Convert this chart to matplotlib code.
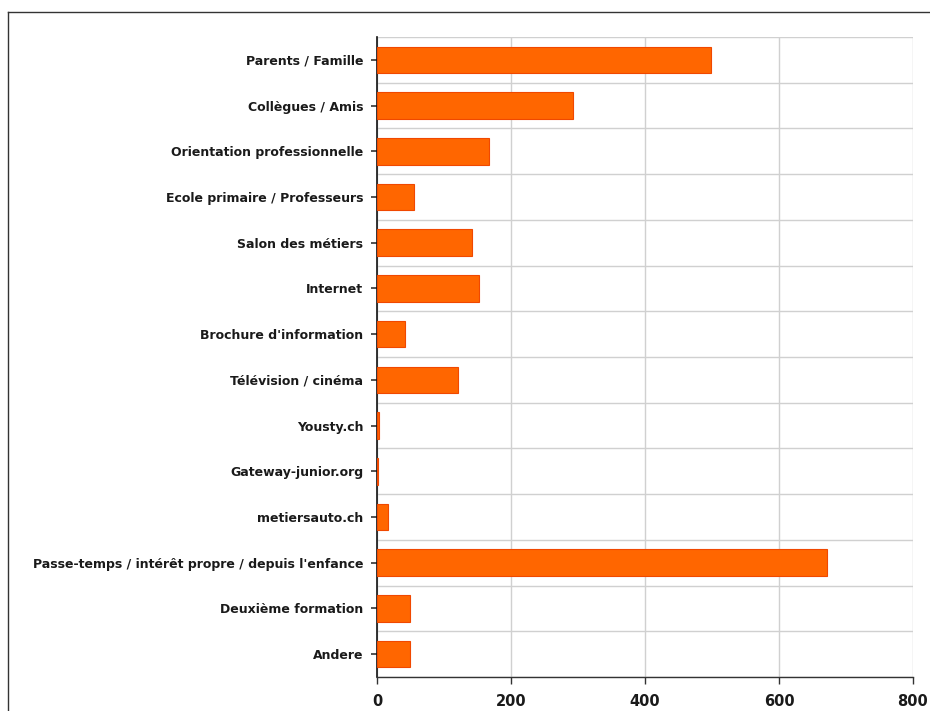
import matplotlib
matplotlib.use("Agg")
import matplotlib.pyplot as plt
from matplotlib.lines import Line2D
import numpy as np

categories = [
    "Parents / Famille",
    "Collègues / Amis",
    "Orientation professionnelle",
    "Ecole primaire / Professeurs",
    "Salon des métiers",
    "Internet",
    "Brochure d'information",
    "Télévision / cinéma",
    "Yousty.ch",
    "Gateway-junior.org",
    "metiersauto.ch",
    "Passe-temps / intérêt propre / depuis l'enfance",
    "Deuxième formation",
    "Andere",
]
values = [498, 293, 167, 55, 142, 152, 42, 121, 3, 1, 16, 672, 49, 49]
x_ticks = [0, 200, 400, 600, 800]

fig = plt.figure(figsize=(9.3, 7.11), dpi=100)
ax = fig.add_axes([377 / 930, 1 - 677 / 711, (913 - 377) / 930, (677 - 37) / 711])

y_pos = np.arange(len(categories))
ax.barh(y_pos, values, height=0.58, color="#ff6600", edgecolor="#f04800", linewidth=0.8, zorder=3)

ax.set_ylim(len(categories) - 0.5, -0.5)
ax.set_xlim(0, 800)
ax.set_yticks(y_pos)
ax.set_yticklabels(categories, fontsize=9, fontweight="bold", color="#1a1a1a")
ax.set_xticks(x_ticks)
ax.set_xticklabels([str(t) for t in x_ticks], fontsize=10.5, fontweight="bold", color="#1a1a1a")
ax.set_yticks(np.arange(-0.5, len(categories), 1), minor=True)
ax.tick_params(axis="y", which="minor", length=0)
ax.tick_params(axis="y", which="major", length=4, width=1.2, color="#333333", pad=6)
ax.tick_params(axis="x", length=5, width=1, color="#333333", pad=7)

ax.grid(axis="x", which="major", color="#d0d0d0", linewidth=1.0, zorder=0)
ax.grid(axis="y", which="minor", color="#d0d0d0", linewidth=1.0, zorder=0)

for side in ["top", "right"]:
    ax.spines[side].set_visible(False)
ax.spines["left"].set_color("#111111")
ax.spines["bottom"].set_color("#333333")
ax.spines["left"].set_linewidth(1.2)
ax.spines["bottom"].set_linewidth(1.0)

# thin frame around the picture (top and left edges visible)
fig.add_artist(Line2D([8 / 930, 1], [1 - 12 / 711, 1 - 12 / 711], color="#333333", linewidth=1))
fig.add_artist(Line2D([8 / 930, 8 / 930], [0, 1 - 12 / 711], color="#333333", linewidth=1))

fig.savefig("out.png", dpi=100)
